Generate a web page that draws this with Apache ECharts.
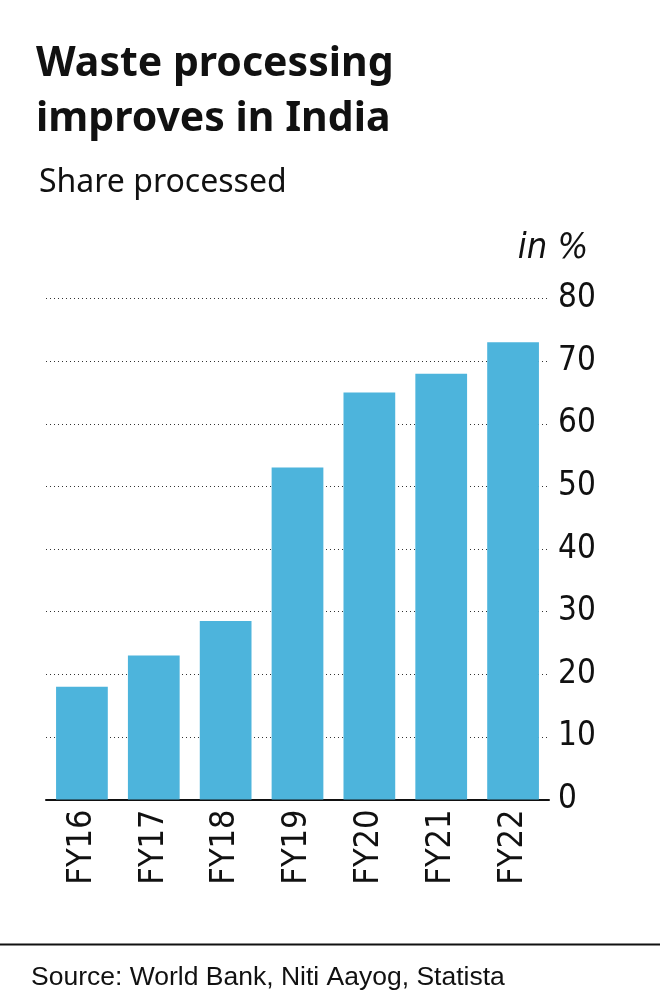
<!DOCTYPE html>
<html>
<head>
<meta charset="utf-8">
<script src="https://cdn.jsdelivr.net/npm/echarts@6/dist/echarts.min.js"></script>
<style>
html,body{margin:0;padding:0;background:#fff;}
#chart{width:660px;height:992px;}
</style>
</head>
<body>
<div id="chart"></div>
<script>
var categories = ['FY16', 'FY17', 'FY18', 'FY19', 'FY20', 'FY21', 'FY22'];
var shareProcessed = [18, 23, 28.5, 53, 65, 68, 73];
var titleText = 'Waste processing\nimproves in India';
var subtitleText = 'Share processed';
var unitText = 'in %';
var sourceText = 'Source: World Bank, Niti Aayog, Statista';

var narrow = '"Liberation Sans Narrow", "DejaVu Sans Condensed", "Liberation Sans", sans-serif';
var chart = echarts.init(document.getElementById('chart'), null, {renderer: 'canvas'});
chart.setOption({
  backgroundColor: '#ffffff',
  animation: false,
  title: [{
    text: titleText,
    left: 36,
    top: 37,
    padding: 0,
    textStyle: {fontFamily: '"Noto Sans", sans-serif', fontWeight: 700, fontSize: 41, lineHeight: 55, color: '#111111'}
  }, {
    text: subtitleText,
    left: 39,
    top: 167,
    padding: 0,
    textStyle: {fontFamily: '"Noto Sans", sans-serif', fontWeight: 400, fontSize: 32, lineHeight: 32, color: '#111111'}
  }],
  grid: {left: 46, right: 111, top: 298.5, bottom: 192.5, containLabel: false},
  xAxis: {
    type: 'category',
    data: categories,
    axisLine: {show: true, lineStyle: {color: '#111111', width: 2}},
    axisTick: {show: false},
    axisLabel: {rotate: 90, margin: 10, fontFamily: narrow, fontSize: 34, color: '#111111'}
  },
  yAxis: {
    type: 'value',
    position: 'right',
    min: 0,
    max: 80,
    interval: 10,
    name: unitText,
    nameLocation: 'end',
    nameGap: 50,
    nameTextStyle: {fontFamily: narrow, fontStyle: 'italic', fontSize: 36, color: '#111111', align: 'center', verticalAlign: 'middle', padding: [0, 0, 0, 8]},
    axisLine: {show: false},
    axisTick: {show: false},
    axisLabel: {margin: 9, fontFamily: narrow, fontSize: 33, color: '#111111'},
    splitLine: {show: true, lineStyle: {type: [1, 3], color: '#333333', width: 1.2}}
  },
  series: [{
    type: 'bar',
    data: shareProcessed,
    barWidth: '72%',
    itemStyle: {color: '#4db4dc'},
    z: 3
  }],
  graphic: [{
    type: 'line',
    shape: {x1: 0, y1: 944.5, x2: 660, y2: 944.5},
    style: {stroke: '#111111', lineWidth: 2}
  }, {
    type: 'text',
    left: 31,
    top: 964,
    style: {text: sourceText, fontFamily: '"Liberation Sans", sans-serif', fontSize: 26.5, fill: '#111111'}
  }]
});
</script>
</body>
</html>
